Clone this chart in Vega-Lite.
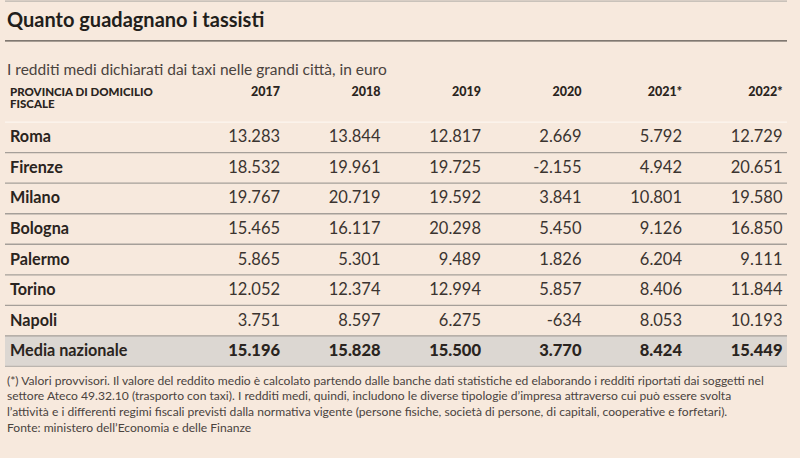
{
  "$schema": "https://vega.github.io/schema/vega-lite/v6.json",
  "width": 782,
  "height": 458,
  "autosize": {"type": "none"},
  "padding": {"left": 5, "right": 13, "top": 0, "bottom": 0},
  "background": "#f7e9dd",
  "config": {
    "view": {"stroke": null},
    "locale": {"number": {"decimal": ",", "thousands": ".", "grouping": [3], "currency": ["", " €"], "minus": "-"}}
  },
  "datasets": {
    "tabella": [
      {"citta": "Roma", "anno": "2017", "reddito": 13283},
      {"citta": "Roma", "anno": "2018", "reddito": 13844},
      {"citta": "Roma", "anno": "2019", "reddito": 12817},
      {"citta": "Roma", "anno": "2020", "reddito": 2669},
      {"citta": "Roma", "anno": "2021", "reddito": 5792},
      {"citta": "Roma", "anno": "2022", "reddito": 12729},
      {"citta": "Firenze", "anno": "2017", "reddito": 18532},
      {"citta": "Firenze", "anno": "2018", "reddito": 19961},
      {"citta": "Firenze", "anno": "2019", "reddito": 19725},
      {"citta": "Firenze", "anno": "2020", "reddito": -2155},
      {"citta": "Firenze", "anno": "2021", "reddito": 4942},
      {"citta": "Firenze", "anno": "2022", "reddito": 20651},
      {"citta": "Milano", "anno": "2017", "reddito": 19767},
      {"citta": "Milano", "anno": "2018", "reddito": 20719},
      {"citta": "Milano", "anno": "2019", "reddito": 19592},
      {"citta": "Milano", "anno": "2020", "reddito": 3841},
      {"citta": "Milano", "anno": "2021", "reddito": 10801},
      {"citta": "Milano", "anno": "2022", "reddito": 19580},
      {"citta": "Bologna", "anno": "2017", "reddito": 15465},
      {"citta": "Bologna", "anno": "2018", "reddito": 16117},
      {"citta": "Bologna", "anno": "2019", "reddito": 20298},
      {"citta": "Bologna", "anno": "2020", "reddito": 5450},
      {"citta": "Bologna", "anno": "2021", "reddito": 9126},
      {"citta": "Bologna", "anno": "2022", "reddito": 16850},
      {"citta": "Palermo", "anno": "2017", "reddito": 5865},
      {"citta": "Palermo", "anno": "2018", "reddito": 5301},
      {"citta": "Palermo", "anno": "2019", "reddito": 9489},
      {"citta": "Palermo", "anno": "2020", "reddito": 1826},
      {"citta": "Palermo", "anno": "2021", "reddito": 6204},
      {"citta": "Palermo", "anno": "2022", "reddito": 9111},
      {"citta": "Torino", "anno": "2017", "reddito": 12052},
      {"citta": "Torino", "anno": "2018", "reddito": 12374},
      {"citta": "Torino", "anno": "2019", "reddito": 12994},
      {"citta": "Torino", "anno": "2020", "reddito": 5857},
      {"citta": "Torino", "anno": "2021", "reddito": 8406},
      {"citta": "Torino", "anno": "2022", "reddito": 11844},
      {"citta": "Napoli", "anno": "2017", "reddito": 3751},
      {"citta": "Napoli", "anno": "2018", "reddito": 8597},
      {"citta": "Napoli", "anno": "2019", "reddito": 6275},
      {"citta": "Napoli", "anno": "2020", "reddito": -634},
      {"citta": "Napoli", "anno": "2021", "reddito": 8053},
      {"citta": "Napoli", "anno": "2022", "reddito": 10193},
      {"citta": "Media nazionale", "anno": "2017", "reddito": 15196},
      {"citta": "Media nazionale", "anno": "2018", "reddito": 15828},
      {"citta": "Media nazionale", "anno": "2019", "reddito": 15500},
      {"citta": "Media nazionale", "anno": "2020", "reddito": 3770},
      {"citta": "Media nazionale", "anno": "2021", "reddito": 8424},
      {"citta": "Media nazionale", "anno": "2022", "reddito": 15449}
    ],
    "anni": [
      {"anno": "2017", "etichetta": "2017"},
      {"anno": "2018", "etichetta": "2018"},
      {"anno": "2019", "etichetta": "2019"},
      {"anno": "2020", "etichetta": "2020"},
      {"anno": "2021", "etichetta": "2021*"},
      {"anno": "2022", "etichetta": "2022*"}
    ],
    "testi": [
      {"riga": "titolo", "testo": "Quanto guadagnano i tassisti"},
      {"riga": "sottotitolo", "testo": "I redditi medi dichiarati dai taxi nelle grandi città, in euro"},
      {"riga": "intestazione", "testo": "PROVINCIA DI DOMICILIO\nFISCALE"},
      {"riga": "note", "testo": "(*) Valori provvisori. Il valore del reddito medio è calcolato partendo dalle banche dati statistiche ed elaborando i redditi riportati dai soggetti nel\nsettore Ateco 49.32.10 (trasporto con taxi). I redditi medi, quindi, includono le diverse tipologie d’impresa attraverso cui può essere svolta\nl’attività e i differenti regimi fiscali previsti dalla normativa vigente (persone fisiche, società di persone, di capitali, cooperative e forfetari).\nFonte: ministero dell’Economia e delle Finanze"}
    ]
  },
  "layer": [
    {
      "data": {"values": [{"riga": "Media nazionale"}]},
      "mark": {"type": "rect", "color": "#dcd7d2"},
      "encoding": {
        "y": {"field": "riga", "type": "nominal", "axis": null, "scale": {"type": "band", "domain": ["titolo", "linea", "sottotitolo", "intestazione", "Roma", "Firenze", "Milano", "Bologna", "Palermo", "Torino", "Napoli", "Media nazionale", "note"], "paddingInner": 0, "paddingOuter": 1.133, "align": 0}}
      }
    },
    {
      "data": {"values": [{"riga": "Roma"}, {"riga": "Firenze"}, {"riga": "Milano"}, {"riga": "Bologna"}, {"riga": "Palermo"}, {"riga": "Torino"}, {"riga": "Napoli"}]},
      "mark": {"type": "rule", "color": "#a59f99", "strokeWidth": 1.3},
      "encoding": {
        "y": {"field": "riga", "type": "nominal", "axis": null, "bandPosition": 1, "scale": {"type": "band", "domain": ["titolo", "linea", "sottotitolo", "intestazione", "Roma", "Firenze", "Milano", "Bologna", "Palermo", "Torino", "Napoli", "Media nazionale", "note"], "paddingInner": 0, "paddingOuter": 1.133, "align": 0}}
      }
    },
    {
      "data": {"values": [{"riga": "intestazione"}]},
      "mark": {"type": "rule", "color": "#fdf6ef", "strokeWidth": 1.3},
      "encoding": {
        "y": {"field": "riga", "type": "nominal", "axis": null, "bandPosition": 1, "scale": {"type": "band", "domain": ["titolo", "linea", "sottotitolo", "intestazione", "Roma", "Firenze", "Milano", "Bologna", "Palermo", "Torino", "Napoli", "Media nazionale", "note"], "paddingInner": 0, "paddingOuter": 1.133, "align": 0}}
      }
    },
    {
      "data": {"values": [{"riga": "Media nazionale"}]},
      "mark": {"type": "rule", "color": "#bbb5af", "strokeWidth": 1.3},
      "encoding": {
        "y": {"field": "riga", "type": "nominal", "axis": null, "bandPosition": 1, "scale": {"type": "band", "domain": ["titolo", "linea", "sottotitolo", "intestazione", "Roma", "Firenze", "Milano", "Bologna", "Palermo", "Torino", "Napoli", "Media nazionale", "note"], "paddingInner": 0, "paddingOuter": 1.133, "align": 0}}
      }
    },
    {
      "data": {"values": [{"riga": "titolo"}]},
      "mark": {"type": "rule", "color": "#bab4ae", "strokeWidth": 1.2},
      "encoding": {
        "y": {"field": "riga", "type": "nominal", "axis": null, "bandPosition": 0.04, "scale": {"type": "band", "domain": ["titolo", "linea", "sottotitolo", "intestazione", "Roma", "Firenze", "Milano", "Bologna", "Palermo", "Torino", "Napoli", "Media nazionale", "note"], "paddingInner": 0, "paddingOuter": 1.133, "align": 0}}
      }
    },
    {
      "data": {"values": [{"riga": "linea"}]},
      "mark": {"type": "rule", "color": "#59524c", "strokeWidth": 1.3},
      "encoding": {
        "y": {"field": "riga", "type": "nominal", "axis": null, "bandPosition": 0.34, "scale": {"type": "band", "domain": ["titolo", "linea", "sottotitolo", "intestazione", "Roma", "Firenze", "Milano", "Bologna", "Palermo", "Torino", "Napoli", "Media nazionale", "note"], "paddingInner": 0, "paddingOuter": 1.133, "align": 0}}
      }
    },
    {
      "data": {"name": "testi"},
      "transform": [{"filter": "datum.riga === 'titolo'"}],
      "mark": {"type": "text", "align": "left", "baseline": "alphabetic", "font": "Lato", "fontWeight": "bold", "fontSize": 20, "color": "#221e1b", "dx": -3},
      "encoding": {
        "x": {"datum": "etichetta", "type": "nominal", "axis": null, "bandPosition": 0, "scale": {"type": "band", "domain": ["etichetta", "vuoto", "2017", "2018", "2019", "2020", "2021", "2022"], "paddingInner": 0.313, "paddingOuter": 0.0473, "align": 0.526}},
        "y": {"field": "riga", "type": "nominal", "axis": null, "bandPosition": 0.88, "scale": {"type": "band", "domain": ["titolo", "linea", "sottotitolo", "intestazione", "Roma", "Firenze", "Milano", "Bologna", "Palermo", "Torino", "Napoli", "Media nazionale", "note"], "paddingInner": 0, "paddingOuter": 1.133, "align": 0}},
        "text": {"field": "testo", "type": "nominal"}
      }
    },
    {
      "data": {"name": "testi"},
      "transform": [{"filter": "datum.riga === 'sottotitolo'"}],
      "mark": {"type": "text", "align": "left", "baseline": "alphabetic", "font": "Lato", "fontSize": 15.5, "color": "#4a433e", "dx": -3},
      "encoding": {
        "x": {"datum": "etichetta", "type": "nominal", "axis": null, "bandPosition": 0, "scale": {"type": "band", "domain": ["etichetta", "vuoto", "2017", "2018", "2019", "2020", "2021", "2022"], "paddingInner": 0.313, "paddingOuter": 0.0473, "align": 0.526}},
        "y": {"field": "riga", "type": "nominal", "axis": null, "bandPosition": 0.44, "scale": {"type": "band", "domain": ["titolo", "linea", "sottotitolo", "intestazione", "Roma", "Firenze", "Milano", "Bologna", "Palermo", "Torino", "Napoli", "Media nazionale", "note"], "paddingInner": 0, "paddingOuter": 1.133, "align": 0}},
        "text": {"field": "testo", "type": "nominal"}
      }
    },
    {
      "data": {"name": "testi"},
      "transform": [{"filter": "datum.riga === 'intestazione'"}],
      "mark": {"type": "text", "align": "left", "baseline": "alphabetic", "font": "Lato", "fontWeight": 900, "fontSize": 11.5, "lineBreak": "\n", "lineHeight": 12.5, "color": "#2a2420"},
      "encoding": {
        "x": {"datum": "etichetta", "type": "nominal", "axis": null, "bandPosition": 0, "scale": {"type": "band", "domain": ["etichetta", "vuoto", "2017", "2018", "2019", "2020", "2021", "2022"], "paddingInner": 0.313, "paddingOuter": 0.0473, "align": 0.526}},
        "y": {"field": "riga", "type": "nominal", "axis": null, "bandPosition": 0.13, "scale": {"type": "band", "domain": ["titolo", "linea", "sottotitolo", "intestazione", "Roma", "Firenze", "Milano", "Bologna", "Palermo", "Torino", "Napoli", "Media nazionale", "note"], "paddingInner": 0, "paddingOuter": 1.133, "align": 0}},
        "text": {"field": "testo", "type": "nominal"}
      }
    },
    {
      "data": {"name": "anni"},
      "mark": {"type": "text", "align": "right", "baseline": "alphabetic", "font": "Lato", "fontWeight": 900, "fontSize": 12.5, "color": "#2a2420"},
      "encoding": {
        "x": {"field": "anno", "type": "nominal", "axis": null, "bandPosition": 1, "scale": {"type": "band", "domain": ["etichetta", "vuoto", "2017", "2018", "2019", "2020", "2021", "2022"], "paddingInner": 0.313, "paddingOuter": 0.0473, "align": 0.526}},
        "y": {"datum": "intestazione", "type": "nominal", "axis": null, "bandPosition": 0.15, "scale": {"type": "band", "domain": ["titolo", "linea", "sottotitolo", "intestazione", "Roma", "Firenze", "Milano", "Bologna", "Palermo", "Torino", "Napoli", "Media nazionale", "note"], "paddingInner": 0, "paddingOuter": 1.133, "align": 0}},
        "text": {"field": "etichetta", "type": "nominal"}
      }
    },
    {
      "data": {"name": "tabella"},
      "transform": [{"filter": "datum.anno === '2017'"}],
      "mark": {"type": "text", "align": "left", "baseline": "middle", "font": "Lato", "fontWeight": "bold", "fontSize": 16.2, "color": "#2a2420"},
      "encoding": {
        "x": {"datum": "etichetta", "type": "nominal", "axis": null, "bandPosition": 0, "scale": {"type": "band", "domain": ["etichetta", "vuoto", "2017", "2018", "2019", "2020", "2021", "2022"], "paddingInner": 0.313, "paddingOuter": 0.0473, "align": 0.526}},
        "y": {"field": "citta", "type": "nominal", "axis": null, "bandPosition": 0.5, "scale": {"type": "band", "domain": ["titolo", "linea", "sottotitolo", "intestazione", "Roma", "Firenze", "Milano", "Bologna", "Palermo", "Torino", "Napoli", "Media nazionale", "note"], "paddingInner": 0, "paddingOuter": 1.133, "align": 0}},
        "text": {"field": "citta", "type": "nominal"}
      }
    },
    {
      "data": {"name": "tabella"},
      "transform": [{"filter": "datum.citta !== 'Media nazionale'"}],
      "mark": {"type": "text", "align": "right", "baseline": "middle", "font": "Lato", "fontSize": 16.5, "color": "#3b3430"},
      "encoding": {
        "x": {"field": "anno", "type": "nominal", "axis": null, "bandPosition": 1, "scale": {"type": "band", "domain": ["etichetta", "vuoto", "2017", "2018", "2019", "2020", "2021", "2022"], "paddingInner": 0.313, "paddingOuter": 0.0473, "align": 0.526}},
        "y": {"field": "citta", "type": "nominal", "axis": null, "bandPosition": 0.5, "scale": {"type": "band", "domain": ["titolo", "linea", "sottotitolo", "intestazione", "Roma", "Firenze", "Milano", "Bologna", "Palermo", "Torino", "Napoli", "Media nazionale", "note"], "paddingInner": 0, "paddingOuter": 1.133, "align": 0}},
        "text": {"field": "reddito", "type": "quantitative", "format": ","}
      }
    },
    {
      "data": {"name": "tabella"},
      "transform": [{"filter": "datum.citta === 'Media nazionale'"}],
      "mark": {"type": "text", "align": "right", "baseline": "middle", "font": "Lato", "fontWeight": 900, "fontSize": 16.5, "color": "#2a2420"},
      "encoding": {
        "x": {"field": "anno", "type": "nominal", "axis": null, "bandPosition": 1, "scale": {"type": "band", "domain": ["etichetta", "vuoto", "2017", "2018", "2019", "2020", "2021", "2022"], "paddingInner": 0.313, "paddingOuter": 0.0473, "align": 0.526}},
        "y": {"field": "citta", "type": "nominal", "axis": null, "bandPosition": 0.5, "scale": {"type": "band", "domain": ["titolo", "linea", "sottotitolo", "intestazione", "Roma", "Firenze", "Milano", "Bologna", "Palermo", "Torino", "Napoli", "Media nazionale", "note"], "paddingInner": 0, "paddingOuter": 1.133, "align": 0}},
        "text": {"field": "reddito", "type": "quantitative", "format": ","}
      }
    },
    {
      "data": {"name": "testi"},
      "transform": [{"filter": "datum.riga === 'note'"}],
      "mark": {"type": "text", "align": "left", "baseline": "alphabetic", "font": "Lato", "fontSize": 12.1, "lineBreak": "\n", "lineHeight": 15.7, "color": "#4a433e", "dx": -3},
      "encoding": {
        "x": {"datum": "etichetta", "type": "nominal", "axis": null, "bandPosition": 0, "scale": {"type": "band", "domain": ["etichetta", "vuoto", "2017", "2018", "2019", "2020", "2021", "2022"], "paddingInner": 0.313, "paddingOuter": 0.0473, "align": 0.526}},
        "y": {"field": "riga", "type": "nominal", "axis": null, "bandPosition": 0.6, "scale": {"type": "band", "domain": ["titolo", "linea", "sottotitolo", "intestazione", "Roma", "Firenze", "Milano", "Bologna", "Palermo", "Torino", "Napoli", "Media nazionale", "note"], "paddingInner": 0, "paddingOuter": 1.133, "align": 0}},
        "text": {"field": "testo", "type": "nominal"}
      }
    }
  ]
}
